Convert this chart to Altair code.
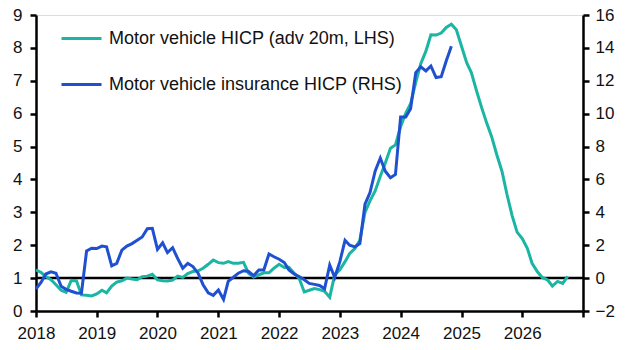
import altair as alt
import pandas as pd

# ---- data ----
series_names = ["Motor vehicle HICP (adv 20m, LHS)", "Motor vehicle insurance HICP (RHS)"]
series_colors = ["#1BB5A3", "#1F50D0"]

start_month = "2018-01-01"

motor_vehicle_lhs = [
    1.25, 1.17, 1.05, 0.95, 0.80, 0.63, 0.57, 0.93, 0.92, 0.49, 0.48, 0.46,   # 2018
    0.52, 0.63, 0.55, 0.76, 0.88, 0.92, 1.00, 0.97, 0.95, 1.04, 1.06, 1.12,   # 2019
    0.95, 0.92, 0.91, 0.94, 1.06, 1.02, 1.14, 1.20, 1.22, 1.30, 1.42, 1.55,   # 2020
    1.47, 1.45, 1.50, 1.45, 1.45, 1.48, 1.15, 1.03, 1.10, 1.16, 1.16, 1.30,   # 2021
    1.42, 1.32, 1.33, 1.15, 1.00, 0.58, 0.63, 0.68, 0.65, 0.60, 0.42, 1.10,   # 2022
    1.25, 1.50, 1.75, 1.90, 2.15, 3.00, 3.35, 3.65, 4.10, 4.50, 4.95, 5.05,   # 2023
    5.60, 6.02, 6.30, 6.95, 7.52, 7.90, 8.40, 8.39, 8.45, 8.62, 8.72, 8.55,   # 2024
    8.05, 7.55, 7.25, 6.70, 6.20, 5.72, 5.30, 4.75, 4.25, 3.55, 2.90, 2.40,   # 2025
    2.20, 1.90, 1.45, 1.20, 1.02, 0.95, 0.76, 0.90, 0.84, 1.05,               # 2026
]

motor_insurance_rhs = [
    -0.66, -0.25, 0.25, 0.38, 0.30, -0.50, -0.68, -0.80, -0.90, -0.92, 1.65, 1.82,   # 2018
    1.80, 1.95, 1.90, 0.75, 0.90, 1.70, 1.95, 2.10, 2.30, 2.50, 3.00, 3.03,          # 2019
    1.75, 2.15, 1.55, 1.85, 1.20, 0.60, 0.90, 0.70, 0.30, -0.40, -0.90, -1.05,       # 2020
    -0.72, -1.30, -0.20, 0.05, 0.30, 0.45, 0.40, 0.15, 0.50, 0.50, 1.47, 1.30,       # 2021
    1.15, 0.95, 0.50, 0.25, 0.10, -0.10, -0.32, -0.38, -0.45, -0.65, 0.80, 0.05,     # 2022
    1.00, 2.30, 2.00, 1.90, 2.10, 4.50, 5.20, 6.50, 7.30, 6.50, 6.10, 6.30,          # 2023
    9.80, 9.80, 10.30, 12.50, 12.85, 12.60, 12.90, 12.20, 12.25, 13.20, 14.10,       # 2024
]

left_ticks = list(range(0, 10))
right_ticks = list(range(-2, 17, 2))
year_ticks = [f"{y}-01-01" for y in range(2018, 2028)]

# ---- tables ----
d1 = pd.DataFrame({
    "date": pd.date_range(start_month, periods=len(motor_vehicle_lhs), freq="MS"),
    "value": motor_vehicle_lhs,
    "series": series_names[0],
})
d2 = pd.DataFrame({
    "date": pd.date_range(start_month, periods=len(motor_insurance_rhs), freq="MS"),
    "value": motor_insurance_rhs,
    "series": series_names[1],
})
ref = pd.DataFrame({"value": [1]})

FONT = "Liberation Sans"
FS = 17
TXT = "#111111"

x_enc = alt.X(
    "date:T",
    scale=alt.Scale(domain=["2018-01-01", "2027-01-01"]),
    axis=alt.Axis(
        title=None, values=year_ticks, grid=False,
        labelExpr="year(datum.value) == 2027 ? '' : timeFormat(datum.value, '%Y')",
        domainColor="black", domainWidth=2.5, tickColor="black", tickWidth=2.5,
        tickSize=6, labelFontSize=FS, labelFont=FONT, labelColor=TXT,
        labelPadding=8, labelFlush=False,
    ),
)

left_axis = alt.Axis(
    title=None, values=left_ticks, grid=False, orient="left",
    domainColor="black", domainWidth=2.5, tickColor="black", tickWidth=2.5,
    tickSize=6, labelFontSize=FS, labelFont=FONT, labelColor=TXT,
    labelPadding=8,
)
right_axis = alt.Axis(
    title=None, values=right_ticks, grid=False, orient="right",
    domainColor="black", domainWidth=2.5, tickColor="black", tickWidth=2.5,
    tickSize=6, labelFontSize=FS, labelFont=FONT, labelColor=TXT,
    labelPadding=6,
)

color_enc = alt.Color(
    "series:N",
    scale=alt.Scale(domain=series_names, range=series_colors),
    legend=alt.Legend(
        title=None, orient="none", legendX=24, legendY=2,
        symbolType="stroke", symbolSize=1600, symbolStrokeWidth=3,
        labelFontSize=18, labelFont=FONT, labelColor=TXT, labelLimit=0,
        rowPadding=15, labelOffset=6,
    ),
)

left_scale = alt.Scale(domain=[0, 9], nice=False)

ref_line = alt.Chart(ref).mark_rule(color="black", strokeWidth=2.5).encode(
    y=alt.Y("value:Q", scale=left_scale, axis=left_axis)
)

left_line = alt.Chart(d1).mark_line(strokeWidth=3).encode(
    x=x_enc,
    y=alt.Y("value:Q", scale=left_scale, axis=left_axis),
    color=color_enc,
)

right_line = alt.Chart(d2).mark_line(strokeWidth=3).encode(
    x=x_enc,
    y=alt.Y("value:Q", scale=alt.Scale(domain=[-2, 16], nice=False), axis=right_axis),
    color=color_enc,
)

left_layer = alt.layer(ref_line, left_line)

chart = alt.layer(left_layer, right_line).resolve_scale(y="independent").properties(
    width=547, height=296,
    padding={"left": 36, "top": 15, "right": 44, "bottom": 39},
    autosize=alt.AutoSizeParams(type="none"),
).configure_view(stroke=None).configure(background="white")

chart.save("out.html", embed_options={"renderer": "svg", "actions": False})
